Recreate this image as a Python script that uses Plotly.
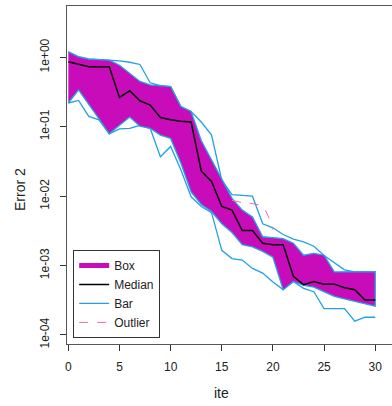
import plotly.graph_objects as go

ite = list(range(31))

box_upper = [1.2, 1.02, 0.94, 0.92, 0.91, 0.77, 0.59, 0.45, 0.40, 0.39, 0.38,
             0.195, 0.166, 0.063, 0.033, 0.017, 0.0093, 0.0063, 0.0050, 0.0026, 0.0025,
             0.00245, 0.0021, 0.00141, 0.0015, 0.00141, 0.00081, 0.00081, 0.00081, 0.00081, 0.00082]
box_lower = [0.22, 0.34, 0.21, 0.13, 0.079, 0.105, 0.138, 0.102, 0.095, 0.076, 0.068,
             0.030, 0.0115, 0.0076, 0.0060, 0.0040, 0.0030, 0.0020, 0.00186, 0.0016, 0.00132,
             0.00045, 0.00059, 0.00052, 0.00049, 0.00042, 0.00036, 0.00033, 0.00030, 0.00028, 0.00026]
median = [0.865, 0.79, 0.73, 0.73, 0.73, 0.265, 0.33, 0.237, 0.205, 0.136, 0.126,
          0.12, 0.117, 0.023, 0.0163, 0.0071, 0.0063, 0.0032, 0.0032, 0.0021, 0.0020,
          0.0020, 0.00070, 0.00053, 0.00059, 0.00054, 0.00054, 0.00048, 0.00045, 0.00032, 0.00032]
bar_upper = [1.2, 1.02, 0.95, 0.93, 0.91, 0.89, 0.85, 0.79, 0.43, 0.39, 0.38,
             0.195, 0.166, 0.117, 0.076, 0.017, 0.0105, 0.0102, 0.0100, 0.0040, 0.0035,
             0.0028, 0.0024, 0.0022, 0.0019, 0.0014, 0.0011, 0.00087, 0.00081, 0.00081, 0.00082]
bar_lower = [0.22, 0.24, 0.141, 0.126, 0.079, 0.093, 0.095, 0.105, 0.095, 0.037, 0.052,
             0.024, 0.0098, 0.0071, 0.0058, 0.00166, 0.00126, 0.0012, 0.00091, 0.00078, 0.00058,
             0.00045, 0.00059, 0.00047, 0.00042, 0.00024, 0.00024, 0.00024, 0.000158, 0.00018, 0.00018]
outlier_x = [16, 17, 18, 19, 20]
outlier_y = [0.0087, 0.0081, 0.0078, 0.0070, 0.0033]

ytick_vals = [1e-4, 1e-3, 1e-2, 1e-1, 1e0]
ytick_text = ["1e-04", "1e-03", "1e-02", "1e-01", "1e+00"]
xtick_vals = [0, 5, 10, 15, 20, 25, 30]

MAG = "#C80CB9"
BLUE = "#22A0E8"
PINK = "#F0708A"

fig = go.Figure()

# whiskers
fig.add_trace(go.Scatter(x=ite, y=bar_upper, mode="lines", line=dict(color=BLUE, width=1.3),
                         name="Bar", legendrank=3))
fig.add_trace(go.Scatter(x=ite, y=bar_lower, mode="lines", line=dict(color=BLUE, width=1.3),
                         showlegend=False))
# box band
fig.add_trace(go.Scatter(x=ite + ite[::-1], y=box_upper + box_lower[::-1], mode="lines",
                         fill="toself", fillcolor=MAG, line=dict(color=BLUE, width=1.3),
                         showlegend=False))
fig.add_trace(go.Scatter(x=[None], y=[None], mode="lines", line=dict(color=MAG, width=5),
                         name="Box", legendrank=1))
fig.add_trace(go.Scatter(x=ite, y=median, mode="lines", line=dict(color="black", width=1.5),
                         name="Median", legendrank=2))
fig.add_trace(go.Scatter(x=outlier_x, y=outlier_y, mode="lines", line_shape="spline",
                         line=dict(color=PINK, width=1, dash="dash"),
                         name="Outlier", legendrank=4))

fig.update_layout(
    width=392, height=406,
    margin=dict(l=67, r=0, t=6, b=62),
    paper_bgcolor="white", plot_bgcolor="white",
    font=dict(family="Liberation Sans, Arial, sans-serif", size=12, color="#222"),
    showlegend=True,
    legend=dict(x=0.019, y=0.018, xanchor="left", yanchor="bottom",
                bgcolor="white", bordercolor="#333", borderwidth=1,
                font=dict(size=12), tracegroupgap=0, itemwidth=30),
    annotations=[
        dict(text="Error 2", textangle=-90, xref="paper", yref="paper",
             x=(20 - 67) / 325, y=(344 - 190) / 338, xanchor="center", yanchor="middle",
             showarrow=False, font=dict(size=14, color="#222")),
        dict(text="ite", xref="paper", yref="paper",
             x=(221 - 67) / 325, y=(344 - 393) / 338, xanchor="center", yanchor="middle",
             showarrow=False, font=dict(size=14, color="#222")),
    ],
)
fig.update_xaxes(range=[-0.13, 31.64], tickvals=xtick_vals, ticks="outside", ticklen=6,
                 tickcolor="#333", showgrid=False, zeroline=False, showline=True,
                 linecolor="#555", mirror=True, ticklabelstandoff=6)
fig.update_yaxes(type="log", range=[-4.13, 0.74], tickvals=ytick_vals, ticktext=ytick_text,
                 tickangle=-90, ticks="outside", ticklen=6, tickcolor="#333", showgrid=False,
                 zeroline=False, showline=True, linecolor="#555", mirror=True,
                 ticklabelstandoff=6)

fig.write_html("out.html")
